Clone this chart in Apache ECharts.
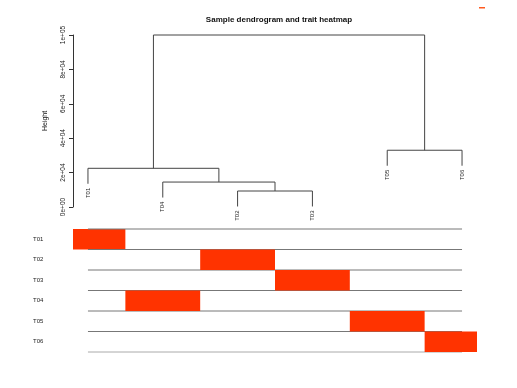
<!DOCTYPE html>
<html><head><meta charset="utf-8">
<script src="https://cdn.jsdelivr.net/npm/echarts@6/dist/echarts.min.js"></script>
<style>html,body{margin:0;padding:0;background:#fff}#c{width:517px;height:388px}</style>
</head><body><div id="c"></div>
<script>
// ---- data ----
const leaves = ['T01', 'T04', 'T02', 'T03', 'T05', 'T06'];      // dendrogram order
const mergeA = [-3, -2, -1, -5, 3];       // negative: leaf position, positive: earlier merge
const mergeB = [-4, 1, 2, -6, 4];
const mergeHeights = [9300, 14500, 22500, 33000, 100000];
const hang = 9000;
const yTickLabels = ['0e+00', '2e+04', '4e+04', '6e+04', '8e+04', '1e+05'];
const traitNames = ['T01', 'T02', 'T03', 'T04', 'T05', 'T06'];
const traitT01 = [1, 0, 0, 0, 0, 0];
const traitT02 = [0, 0, 1, 0, 0, 0];
const traitT03 = [0, 0, 0, 1, 0, 0];
const traitT04 = [0, 1, 0, 0, 0, 0];
const traitT05 = [0, 0, 0, 0, 1, 0];
const traitT06 = [0, 0, 0, 0, 0, 1];
const traitRows = [traitT01, traitT02, traitT03, traitT04, traitT05, traitT06];

// ---- build dendrogram segments ----
const mergeX = [];
const segData = [];
const leafData = [];
for (let i = 0; i < mergeHeights.length; i++) {
  const h = mergeHeights[i];
  const child = (c) => {
    if (c < 0) {
      const pos = -c;
      leafData.push([pos, h - hang, leaves[pos - 1]]);
      return [pos, h - hang];
    }
    return [mergeX[c - 1], mergeHeights[c - 1]];
  };
  const a = child(mergeA[i]), b = child(mergeB[i]);
  mergeX.push((a[0] + b[0]) / 2);
  segData.push([a[0], b[0], h, a[1], b[1]]);
}
const heatData = [];
traitRows.forEach((row, r) => row.forEach((v, c) => heatData.push([c + 1, r, v])));

const FONT = 'Liberation Sans';
const chart = echarts.init(document.getElementById('c'), null, {renderer: 'canvas'});
chart.setOption({
  animation: false,
  backgroundColor: '#ffffff',
  title: {
    text: 'Sample dendrogram and trait heatmap', left: 274, top: 11, textAlign: 'center',
    textStyle: {fontFamily: FONT, fontSize: 8, fontWeight: 'bold', color: '#111'}
  },
  graphic: [{type: 'rect', shape: {x: 479, y: 7, width: 6, height: 1.5}, style: {fill: '#ff5a1f'}}],
  grid: [
    {left: 73, right: 40, top: 35, bottom: 181},
    {left: 73, right: 40, top: 229, bottom: 36}
  ],
  xAxis: [
    {gridIndex: 0, type: 'value', min: 0.8, max: 6.2, show: false},
    {gridIndex: 1, type: 'value', min: 0.8, max: 6.2, show: false}
  ],
  yAxis: [
    {
      gridIndex: 0, type: 'value', min: 0, max: 100000, interval: 20000,
      name: 'Height', nameLocation: 'middle', nameGap: 24, nameRotate: 90,
      nameTextStyle: {fontFamily: FONT, fontSize: 7, color: '#111'},
      axisLine: {show: true, lineStyle: {color: '#333', width: 1}},
      axisTick: {show: true, length: 4, lineStyle: {color: '#333'}},
      splitLine: {show: false},
      axisLabel: {
        rotate: 90, margin: 6, fontFamily: FONT, fontSize: 6.5, color: '#222',
        formatter: (v) => yTickLabels[Math.round(v / 20000)]
      }
    },
    {
      gridIndex: 1, type: 'category', data: traitNames, inverse: true,
      axisLine: {show: false}, axisTick: {show: false}, splitLine: {show: false},
      axisLabel: {margin: 40, align: 'left', fontFamily: FONT, fontSize: 6, color: '#222'}
    }
  ],
  series: [
    {
      type: 'custom', xAxisIndex: 0, yAxisIndex: 0, data: segData,
      encode: {x: [0, 1], y: [2, 3, 4]},
      renderItem: (params, api) => {
        const p1 = api.coord([api.value(0), api.value(3)]);
        const p2 = api.coord([api.value(0), api.value(2)]);
        const p3 = api.coord([api.value(1), api.value(2)]);
        const p4 = api.coord([api.value(1), api.value(4)]);
        return {type: 'polyline', shape: {points: [p1, p2, p3, p4]},
          style: {stroke: '#444', lineWidth: 1, fill: null}};
      }
    },
    {
      type: 'custom', xAxisIndex: 0, yAxisIndex: 0, data: leafData,
      encode: {x: 0, y: 1},
      renderItem: (params, api) => {
        const p = api.coord([api.value(0), api.value(1)]);
        return {type: 'text', x: p[0], y: p[1] + 4, rotation: Math.PI / 2,
          style: {text: leafData[params.dataIndex][2], fontFamily: FONT, fontSize: 6,
            fill: '#222', align: 'right', verticalAlign: 'middle'}};
      }
    },
    {
      type: 'custom', xAxisIndex: 1, yAxisIndex: 1, data: heatData,
      encode: {x: 0, y: 1},
      renderItem: (params, api) => {
        const cs = params.coordSys;
        const c = api.value(0), r = api.value(1), v = api.value(2);
        const left = api.coord([c - 0.5, r]), right = api.coord([c + 0.5, r]);
        const bh = api.size([0, 1])[1];
        const x0 = Math.max(left[0], cs.x), x1 = Math.min(right[0], cs.x + cs.width);
        const yTop = left[1] - bh / 2;
        const children = [];
        if (v > 0) {
          children.push({type: 'rect', shape: {x: x0, y: yTop, width: x1 - x0, height: bh},
            style: {fill: '#ff3300'}});
        }
        if (c === 1) {
          const l1 = api.coord([1, r])[0], l6 = api.coord([leaves.length, r])[0];
          if (r === 0) children.push({type: 'line', shape: {x1: l1, y1: yTop, x2: l6, y2: yTop},
            style: {stroke: '#777', lineWidth: 1}});
          children.push({type: 'line', shape: {x1: l1, y1: yTop + bh, x2: l6, y2: yTop + bh},
            style: {stroke: r === traitNames.length - 1 ? '#aaa' : '#777', lineWidth: 1}});
        }
        return {type: 'group', children: children};
      }
    }
  ]
});
</script></body></html>
